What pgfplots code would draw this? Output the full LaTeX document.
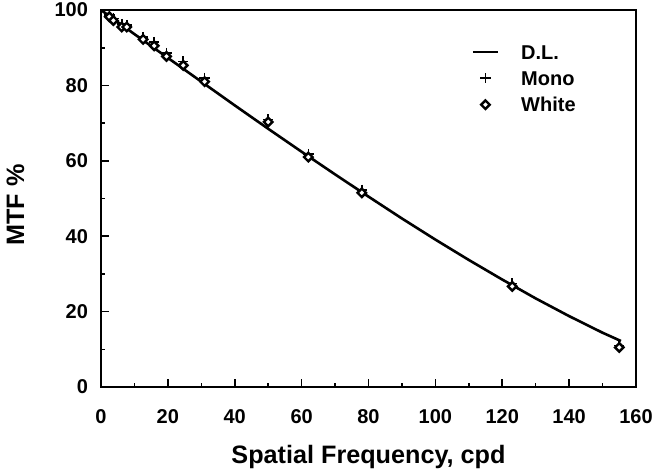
\documentclass[border=0pt]{standalone}
\usepackage{fontspec}
\setmainfont{Liberation Sans}
\usepackage{pgfplots}
\pgfplotsset{compat=1.18}
\pgfplotsset{
  lineleg/.style={legend image code/.code={\draw[##1] (0pt,0pt)--(12.5pt,0pt);}},
  markleg/.style={legend image code/.code={\draw[##1] plot coordinates {(6.25pt,0pt)};}},
}
\begin{document}
\begin{tikzpicture}
\begin{axis}[name=ax, scale only axis, width=267.5pt, height=188.5pt,
  xmin=0, xmax=160, ymin=0, ymax=100,
  xtick={0,20,...,160}, ytick={0,20,...,100},
  minor xtick={10,30,...,150}, minor ytick={10,30,...,90},
  tick align=inside, xtick pos=bottom, ytick pos=left,
  major tick length=4pt, minor tick length=2pt,
  axis line style={line width=1pt},
  every tick/.style={black, line width=0.8pt},
  /pgf/number format/assume math mode=true,
  tick label style={font=\bfseries\fontsize{10}{11}\selectfont},
  xticklabel style={yshift=-7.5pt},
  yticklabel style={xshift=-3pt},
  xlabel={Spatial Frequency, cpd}, ylabel={MTF \%},
  label style={font=\bfseries\fontsize{12.6}{14}\selectfont},
  xlabel style={at={(axis description cs:0.5,-0.154)}, anchor=north, inner sep=0pt},
  ylabel style={at={(axis description cs:-0.16,0.483)}, anchor=center, inner sep=0pt},
  legend style={at={(axis description cs:0.692,0.925)}, anchor=north west, draw=none, fill=none,
    inner sep=0pt, row sep=0pt, column sep=8pt,
    nodes={text height=7.2pt, text depth=0pt, inner sep=3pt},
    font=\bfseries\fontsize{10}{11}\selectfont},
  legend cell align=left,
]
\addplot[black, line width=1.3pt, lineleg]
  coordinates {(0,100) (10,93.6) (20,87.3) (30,81.0) (40,74.7) (50,68.5) (60,62.4)
  (70,56.4) (80,50.5) (90,44.7) (100,39.1) (110,33.7) (120,28.5) (130,23.5)
  (140,18.8) (150,14.4) (155.5,12.2)};
\addlegendentry{D.L.}
\addplot[only marks, mark=+, mark size=2.6pt, black, line width=0.8pt, markleg]
  coordinates {(2.5,98.7) (3.7,97.7) (6.2,96.3) (7.7,96.0) (12.6,92.8) (15.9,91.5)
  (19.6,88.6) (24.6,86.3) (31,82.0) (50,71.0) (62,61.8) (78,52.3) (123,27.5) (155,11.0)};
\addlegendentry{Mono}
\addplot[only marks, mark=square*, mark size=1.5pt, black, line width=1.2pt,
  mark options={fill=white, rotate=45}, markleg]
  coordinates {(2.5,98.2) (3.7,97.2) (6.2,95.5) (7.7,95.5) (12.6,92.2) (15.9,90.5)
  (19.6,87.7) (24.6,85.3) (31,81.0) (50,70.3) (62,61.0) (78,51.5) (123,26.7) (155,10.5)};
\addlegendentry{White}
\end{axis}
\pgfresetboundingbox
\path (ax.south west) ++(-50.5pt,-43pt) rectangle ++(327.5pt,236.5pt);
\end{tikzpicture}
\end{document}
